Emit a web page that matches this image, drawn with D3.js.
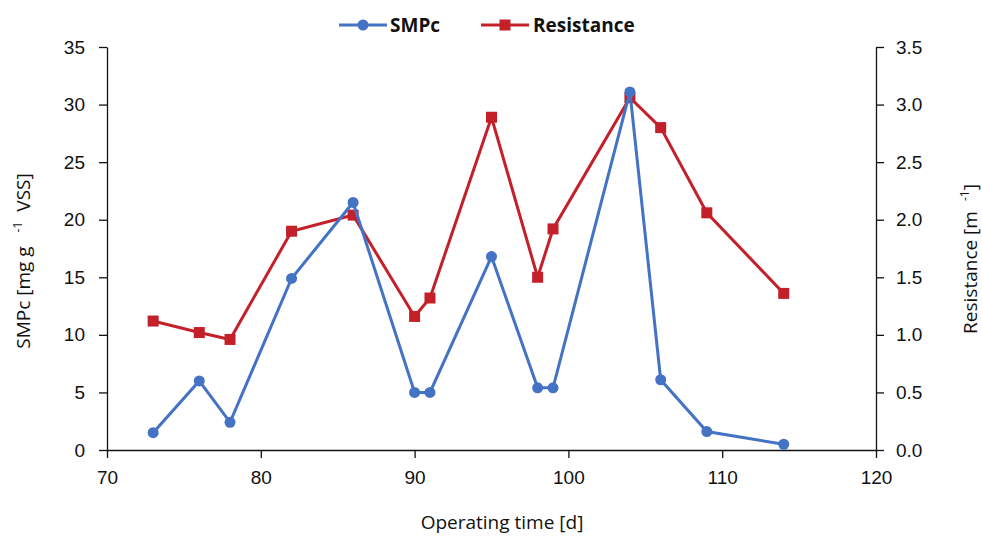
<!DOCTYPE html>
<html lang="en">
<head>
<meta charset="UTF-8">
<title>SMPc and Resistance</title>
<script src="https://d3js.org/d3.v7.min.js"></script>
<style>
    body { margin: 0; background: #fff; font-family: "Open Sans", "Noto Sans", sans-serif; }
    .tick text { font-size: 19px; fill: #111; }
    .domain, .tick line { stroke: #111; stroke-width: 1.3; }
</style>
</head>
<body>
<svg id="chart" width="982" height="536"></svg>
<script>
    // data
    const days = [73, 76, 78, 82, 86, 90, 91, 95, 98, 99, 104, 106, 109, 114];
    const smpc = [1.5, 6.0, 2.4, 14.9, 21.5, 5.0, 5.0, 16.8, 5.4, 5.4, 31.1, 6.1, 1.6, 0.5];
    const resistance = [1.12, 1.02, 0.96, 1.90, 2.04, 1.16, 1.32, 2.89, 1.50, 1.92, 3.06, 2.80, 2.06, 1.36];
    const xTicks = [70, 80, 90, 100, 110, 120];
    const yTicks = [0, 5, 10, 15, 20, 25, 30, 35];
    const y2Ticks = [0, 0.5, 1.0, 1.5, 2.0, 2.5, 3.0, 3.5];

    const blue = "#4472c4", red = "#c4202a";
    const svg = d3.select("#chart");
    const plotLeft = 107, plotRight = 876, plotTop = 47, plotBottom = 450;

    const x = d3.scaleLinear().domain([70, 120]).range([plotLeft, plotRight]);
    const y = d3.scaleLinear().domain([0, 35]).range([plotBottom, plotTop]);
    const y2 = d3.scaleLinear().domain([0, 3.5]).range([plotBottom, plotTop]);

    // axes
    svg.append("g").attr("transform", `translate(0,${plotBottom})`)
        .call(d3.axisBottom(x).tickValues(xTicks).tickSize(8).tickSizeOuter(0).tickPadding(13));
    svg.append("g").attr("transform", `translate(${plotLeft},0)`)
        .call(d3.axisLeft(y).tickValues(yTicks).tickSize(8).tickSizeOuter(0).tickPadding(14));
    svg.append("g").attr("transform", `translate(${plotRight},0)`)
        .call(d3.axisRight(y2).tickValues(y2Ticks).tickFormat(d3.format(".1f")).tickSize(8).tickSizeOuter(0).tickPadding(12));

    // axis titles
    svg.append("text").attr("x", 502).attr("y", 529).attr("text-anchor", "middle")
        .attr("font-size", 19).attr("fill", "#111").text("Operating time [d]");

    const yl = svg.append("text").attr("transform", `translate(30,261) rotate(-90)`)
        .attr("text-anchor", "middle").attr("font-size", 19).attr("fill", "#111");
    yl.append("tspan").text("SMPc [mg g");
    yl.append("tspan").attr("font-size", 12).attr("dx", 14).attr("dy", -8).text("-1");
    yl.append("tspan").attr("dx", 10).attr("dy", 8).text("VSS]");

    const yr = svg.append("text").attr("transform", `translate(977,259) rotate(-90)`)
        .attr("text-anchor", "middle").attr("font-size", 19).attr("fill", "#111");
    yr.append("tspan").text("Resistance [m");
    yr.append("tspan").attr("font-size", 12).attr("dx", 10).attr("dy", -8).text("-1");
    yr.append("tspan").attr("dy", 8).text("]");

    // lines
    const smpcLine = d3.line().x((d, i) => x(days[i])).y(d => y(d));
    const resLine = d3.line().x((d, i) => x(days[i])).y(d => y2(d));

    svg.append("path").datum(resistance).attr("d", resLine)
        .attr("fill", "none").attr("stroke", red).attr("stroke-width", 3);
    svg.selectAll(".sq").data(resistance).enter().append("rect")
        .attr("x", (d, i) => x(days[i]) - 5.5).attr("y", d => y2(d) - 5.5)
        .attr("width", 11).attr("height", 11).attr("fill", red);

    svg.append("path").datum(smpc).attr("d", smpcLine)
        .attr("fill", "none").attr("stroke", blue).attr("stroke-width", 3);
    svg.selectAll(".dot").data(smpc).enter().append("circle")
        .attr("cx", (d, i) => x(days[i])).attr("cy", d => y(d))
        .attr("r", 5.5).attr("fill", blue);

    // legend
    const lg = svg.append("g").attr("font-size", 19).attr("font-weight", "bold").attr("fill", "#111");
    lg.append("line").attr("x1", 339).attr("x2", 387).attr("y1", 25).attr("y2", 25)
        .attr("stroke", blue).attr("stroke-width", 3);
    lg.append("circle").attr("cx", 363).attr("cy", 25).attr("r", 5.5).attr("fill", blue);
    lg.append("text").attr("x", 390).attr("y", 32).text("SMPc");
    lg.append("line").attr("x1", 481).attr("x2", 529).attr("y1", 25).attr("y2", 25)
        .attr("stroke", red).attr("stroke-width", 3);
    lg.append("rect").attr("x", 499.5).attr("y", 19.5).attr("width", 11).attr("height", 11).attr("fill", red);
    lg.append("text").attr("x", 533).attr("y", 32).text("Resistance");
</script>
</body>
</html>
